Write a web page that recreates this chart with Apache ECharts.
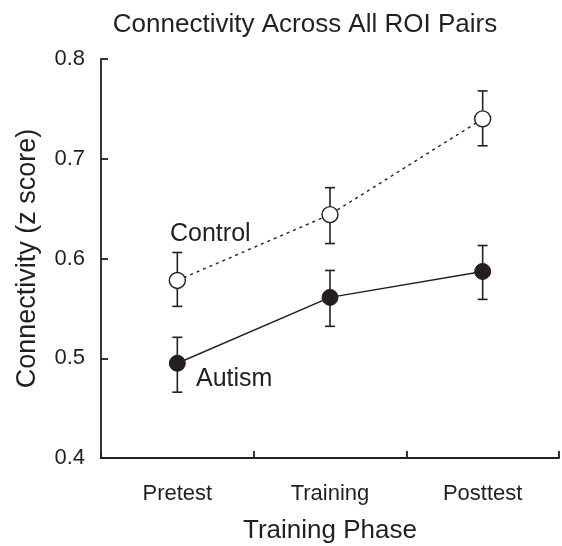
<!DOCTYPE html>
<html>
<head>
<meta charset="utf-8">
<script src="https://cdn.jsdelivr.net/npm/echarts@6/dist/echarts.min.js"></script>
<style>
  html, body { margin: 0; padding: 0; background: #fff; }
  #chart { width: 562px; height: 546px; }
</style>
</head>
<body>
<div id="chart"></div>
<script>
// data
var phases = ['Pretest', 'Training', 'Posttest'];
var controlMean = [0.578, 0.644, 0.740];
var controlLow  = [0.552, 0.615, 0.713];
var controlHigh = [0.606, 0.671, 0.768];
var autismMean  = [0.495, 0.561, 0.587];
var autismLow   = [0.466, 0.532, 0.559];
var autismHigh  = [0.521, 0.588, 0.613];

var ink = '#231f20';
var font = '"Liberation Sans", Arial, sans-serif';

function errorData(low, high) {
  var out = [];
  for (var i = 0; i < low.length; i++) out.push([i, low[i], high[i]]);
  return out;
}

function drawError(params, api) {
  var lo = api.coord([api.value(0), api.value(1)]);
  var hi = api.coord([api.value(0), api.value(2)]);
  var cap = 5;
  var st = { stroke: ink, lineWidth: 1.6 };
  return {
    type: 'group',
    children: [
      { type: 'line', shape: { x1: lo[0], y1: lo[1], x2: hi[0], y2: hi[1] }, style: st },
      { type: 'line', shape: { x1: lo[0] - cap, y1: lo[1], x2: lo[0] + cap, y2: lo[1] }, style: st },
      { type: 'line', shape: { x1: hi[0] - cap, y1: hi[1], x2: hi[0] + cap, y2: hi[1] }, style: st }
    ]
  };
}

var chart = echarts.init(document.getElementById('chart'));
chart.setOption({
  animation: false,
  backgroundColor: '#fff',
  title: {
    text: 'Connectivity Across All ROI Pairs',
    left: 300, top: 7, textAlign: 'center',
    textStyle: { fontFamily: font, fontSize: 26, fontWeight: 'normal', color: ink }
  },
  grid: { left: 101, right: 3, top: 59, bottom: 88, outerBoundsMode: 'none' },
  xAxis: {
    type: 'category',
    data: phases,
    boundaryGap: true,
    name: 'Training Phase',
    nameLocation: 'middle',
    nameGap: 60,
    nameTextStyle: { fontFamily: font, fontSize: 26, color: ink },
    axisLine: { lineStyle: { color: ink, width: 1.8 } },
    axisTick: { show: true, interval: 0, inside: true, length: 7, lineStyle: { color: ink, width: 1.8 } },
    axisLabel: { fontFamily: font, fontSize: 22, color: ink, margin: 25 },
    splitLine: { show: false }
  },
  yAxis: {
    type: 'value',
    min: 0.4, max: 0.8, interval: 0.1,
    name: 'Connectivity (z score)',
    nameLocation: 'middle',
    nameGap: 60,
    nameTextStyle: { fontFamily: font, fontSize: 27, color: ink },
    axisLine: { show: true, lineStyle: { color: ink, width: 1.8 } },
    axisTick: { show: true, inside: true, length: 7, lineStyle: { color: ink, width: 1.8 } },
    axisLabel: { fontFamily: font, fontSize: 22, color: ink, margin: 16, formatter: function (v) { return v.toFixed(1); } },
    splitLine: { show: false }
  },
  series: [
    { type: 'custom', name: 'controlErr', renderItem: drawError, data: errorData(controlLow, controlHigh), z: 1 },
    { type: 'custom', name: 'autismErr', renderItem: drawError, data: errorData(autismLow, autismHigh), z: 1 },
    {
      type: 'line', name: 'Control', data: controlMean, z: 3,
      symbol: 'circle', symbolSize: 16,
      lineStyle: { color: ink, width: 1.4, type: [3, 4] },
      itemStyle: { color: '#fff', borderColor: ink, borderWidth: 1.4 }
    },
    {
      type: 'line', name: 'Autism', data: autismMean, z: 3,
      symbol: 'circle', symbolSize: 16,
      lineStyle: { color: ink, width: 1.4 },
      itemStyle: { color: ink, borderColor: ink, borderWidth: 1 }
    }
  ],
  graphic: [
    { type: 'text', left: 170, top: 222, style: { text: 'Control', font: '25px ' + font, fill: ink } },
    { type: 'text', left: 196, top: 367, style: { text: 'Autism', font: '25px ' + font, fill: ink } }
  ]
});
</script>
</body>
</html>
